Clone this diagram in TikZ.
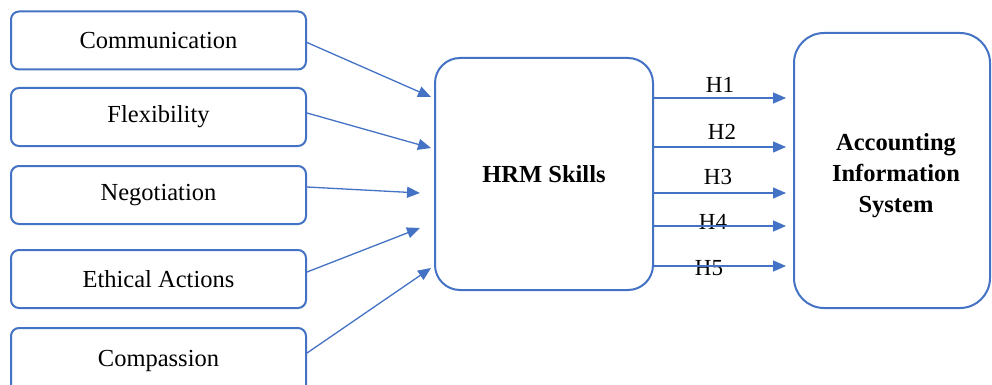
\documentclass[tikz,border=0pt]{standalone}
\usepackage{fontspec}
\setmainfont{Liberation Serif}
\usetikzlibrary{arrows.meta,positioning,calc}
\definecolor{Edge}{HTML}{4472C4}
\tikzset{
 skill/.style={draw=Edge, line width=2pt, rounded corners=8pt, fill=white, minimum width=295pt, minimum height=58pt, align=center, inner sep=0pt, font=\fontsize{24.5}{30}\selectfont},
 bigbox/.style={draw=Edge, line width=2pt, fill=white, align=center, inner sep=0pt, font=\bfseries\fontsize{24.5}{31}\selectfont},
 arrow/.style={-{Triangle[length=13pt,width=11pt]}, line width=1.3pt, draw=Edge},
 hlabel/.style={inner sep=0pt, font=\fontsize{23}{27}\selectfont}
}
\begin{document}
\begin{tikzpicture}[x=1pt,y=-1pt]
\clip (0,0) rectangle (992,385);
\fill[white] (0,0) rectangle (992,385);
% left column
\node[skill] (comm) at (158.5,40.5) {Communication};
\node[skill] (flex) at (158.5,117) {Flexibility};
\node[skill] (nego) at (158.5,195) {Negotiation};
\node[skill] (ethi) at (158.5,279) {Ethical Actions};
\node[skill,minimum height=66pt] (comp) at (158.5,361) {Compassion};
% middle and right
\node[bigbox,rounded corners=25pt,minimum width=218pt,minimum height=232pt] (hrm) at (544,174) {HRM Skills};
\node[bigbox,rounded corners=30pt,minimum width=196pt,minimum height=275pt] (ais) at (892,170.5) {};
\node[bigbox,draw=none,fill=none] (aistext) at ([xshift=4pt,yshift=-5pt]ais.center) {Accounting\\Information\\System};
% skills to HRM
\draw[arrow] ([yshift=-2pt]comm.east) -- ([xshift=-3pt,yshift=77pt]hrm.west);
\draw[arrow] ([yshift=4pt]flex.east) -- ([xshift=-3pt,yshift=26pt]hrm.west);
\draw[arrow] ([yshift=8pt]nego.east) -- ([xshift=-14pt,yshift=-19pt]hrm.west);
\draw[arrow] ([yshift=7pt]ethi.east) -- ([xshift=-14pt,yshift=-54pt]hrm.west);
\draw[arrow] ([yshift=8pt]comp.east) -- ([xshift=-3pt,yshift=-94pt]hrm.west);
% HRM to AIS
\foreach \y/\h/\lx/\ly in {98/H1/720/85, 147/H2/722/132, 193/H3/718/177, 226/H4/713/222, 266/H5/709/268}{
  \node[hlabel] (lab\h) at (\lx,\ly) {\h};
  \draw[arrow] (hrm.east |- 0,\y) -- ([xshift=-7pt]ais.west |- 0,\y);
}
\end{tikzpicture}
\end{document}
